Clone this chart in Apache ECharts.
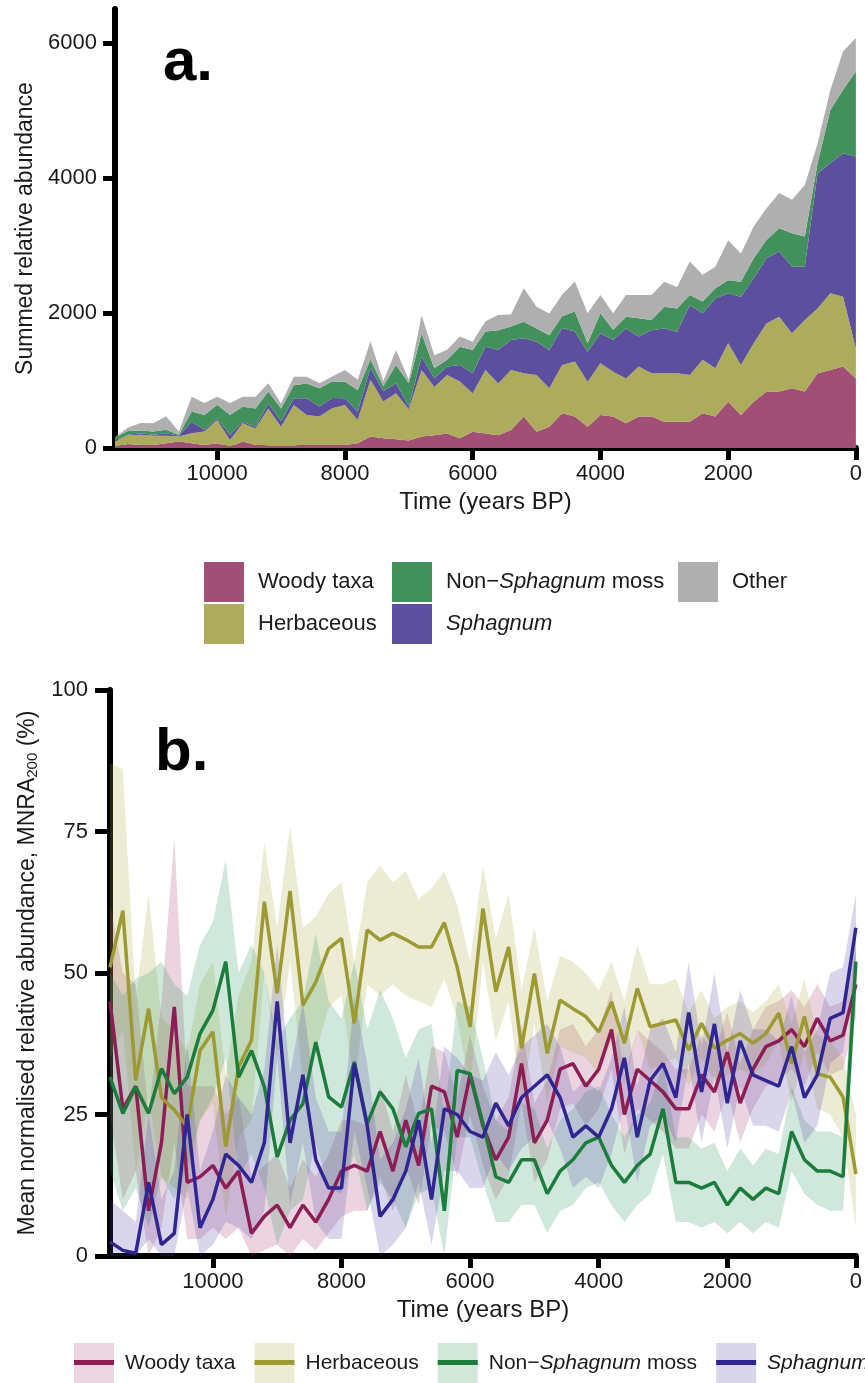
<!DOCTYPE html>
<html>
<head>
  <meta charset="UTF-8"/>
  <title>Summed and mean normalised relative abundance</title>
  <style>
    body { margin: 0; background: #fff; }
    #panelA { width: 865px; height: 660px; }
    #panelB { width: 865px; height: 723px; }
  </style>
</head>
<body>
<div id="panelA"></div>
<div id="panelB"></div>
<script src="https://cdn.jsdelivr.net/npm/echarts@6.0.0/dist/echarts.min.js"></script>
<script type="text/javascript">
    // time bins, years BP (oldest first)
    let years = [11600, 11400, 11200, 11000, 10800, 10600, 10400, 10200, 10000, 9800,
        9600, 9400, 9200, 9000, 8800, 8600, 8400, 8200, 8000, 7800,
        7600, 7400, 7200, 7000, 6800, 6600, 6400, 6200, 6000, 5800,
        5600, 5400, 5200, 5000, 4800, 4600, 4400, 4200, 4000, 3800,
        3600, 3400, 3200, 3000, 2800, 2600, 2400, 2200, 2000, 1800,
        1600, 1400, 1200, 1000, 800, 600, 400, 200, 0];
    let timeTicks = [0, 2000, 4000, 6000, 8000, 10000];
    let sumTicks = [0, 2000, 4000, 6000];
    let mnraTicks = [0, 25, 50, 75, 100];

    // panel a: summed relative abundance (stacked layers)
    let sumWoody = [20, 60, 45, 45, 70, 95, 70, 45, 70, 20, 95, 45, 30, 30, 30, 45, 45, 45, 45, 70,
        170, 145, 130, 110, 170, 190, 215, 145, 240, 215, 190, 265, 465, 240, 315, 515, 465, 315, 490, 465,
        365, 465, 465, 390, 390, 390, 515, 465, 685, 490, 685, 835, 835, 885, 835, 1105, 1155, 1205, 1030];
    let sumHerb = [80, 130, 150, 135, 110, 75, 150, 200, 345, 100, 270, 245, 555, 285, 605, 445, 420, 545, 590, 345,
        840, 545, 680, 465, 985, 715, 865, 840, 570, 940, 765, 890, 640, 840, 570, 715, 815, 665, 765, 665,
        665, 740, 640, 715, 715, 690, 790, 715, 865, 740, 865, 1010, 1110, 815, 1060, 960, 1135, 1035, 445];
    let sumSph = [10, 5, 25, 15, 40, 10, 170, 25, 25, 75, 25, 25, 75, 80, 100, 245, 150, 150, 100, 125,
        175, 150, 150, 40, 195, 125, 125, 245, 295, 345, 495, 445, 520, 495, 565, 545, 445, 445, 445, 470,
        740, 445, 640, 665, 615, 1035, 690, 1035, 740, 1010, 965, 965, 965, 985, 790, 2000, 1925, 2125, 2840];
    let sumNonSph = [40, 55, 40, 50, 50, 15, 150, 220, 200, 295, 220, 270, 175, 190, 195, 220, 270, 245, 245, 320,
        125, 75, 270, 345, 345, 150, 100, 270, 345, 225, 295, 200, 245, 195, 220, 175, 295, 125, 295, 150,
        175, 270, 150, 320, 345, 150, 175, 150, 195, 220, 295, 270, 345, 495, 445, 150, 790, 940, 1260];
    let sumOther = [10, 50, 110, 120, 200, 50, 220, 175, 120, 175, 150, 175, 125, 75, 125, 100, 75, 75, 175, 150,
        270, 75, 220, 50, 270, 195, 150, 150, 125, 150, 225, 175, 495, 320, 320, 320, 445, 445, 270, 245,
        320, 345, 370, 370, 320, 495, 395, 320, 590, 420, 470, 470, 520, 495, 765, 295, 295, 570, 495];

    // panel b: MNRA200 mean and ribbon bounds
    let woodyMean = [45, 26, 30, 8, 20, 44, 13, 14, 16, 12, 15, 4, 7, 9, 5, 9, 6, 10, 15, 16,
        15, 22, 15, 24, 16, 30, 29, 21, 32, 23, 17, 21, 34, 20, 24, 33, 34, 30, 33, 40,
        25, 33, 31, 29, 26, 26, 32, 29, 36, 27, 33, 37, 38, 40, 37, 42, 38, 39, 48];
    let woodyHi = [62, 50, 48, 25, 45, 74, 30, 30, 30, 25, 28, 14, 16, 18, 12, 17, 14, 18, 24, 24,
        23, 30, 22, 32, 23, 37, 36, 28, 39, 30, 24, 28, 41, 27, 31, 40, 41, 37, 40, 47,
        32, 40, 38, 36, 33, 33, 39, 36, 43, 34, 40, 44, 45, 47, 44, 48, 44, 45, 54];
    let woodyLo = [25, 10, 15, 0, 5, 20, 3, 3, 5, 3, 5, 0, 1, 2, 0, 3, 1, 4, 7, 8,
        8, 14, 8, 16, 9, 23, 22, 14, 25, 16, 10, 14, 27, 13, 17, 26, 27, 23, 26, 33,
        18, 26, 24, 22, 19, 19, 25, 22, 29, 20, 26, 30, 31, 33, 30, 36, 32, 33, 42];

    let herbMean = [51, 61, 31, 43.7, 28, 25.8, 22.8, 36.3, 39.6, 19.3, 33.4, 38.1, 62.6, 46.4, 64.5, 44.3, 48.4, 54.3, 56.1, 41.1,
        57.6, 55.8, 57, 55.9, 54.6, 54.6, 58.9, 51, 40.5, 61.4, 46.7, 54.6, 36.7, 49.9, 35.8, 45.2, 43.7, 42.3, 39.6, 44.9,
        37.6, 47.3, 40.5, 41.1, 41.7, 36.4, 41.1, 36.7, 38.1, 39.3, 37.6, 39.3, 42.9, 34, 42.3, 32.2, 31.6, 28.1, 14.5];
    let herbHi = [87, 86, 45, 64, 42, 40, 36, 48, 52, 32, 46, 52, 73, 58, 76, 58, 60, 64, 66, 52,
        66, 69, 66, 68, 63, 65, 68, 62, 52, 69, 56, 64, 47, 58, 45, 53, 52, 50, 47, 52,
        45, 55, 48, 48, 49, 43, 47, 42, 44, 45, 43, 45, 48, 41, 49, 39, 38, 35, 25];
    let herbLo = [35, 40, 15, 28, 14, 12, 10, 24, 27, 7, 21, 24, 50, 35, 52, 31, 36, 44, 46, 30,
        48, 46, 48, 46, 45, 44, 49, 42, 30, 52, 38, 45, 27, 41, 27, 37, 36, 35, 32, 38,
        30, 40, 33, 34, 35, 30, 35, 31, 32, 33, 32, 34, 38, 27, 36, 26, 25, 21, 5];

    let mossMean = [31.6, 25.2, 29.9, 25.2, 33.1, 28.7, 31.6, 39.3, 43.4, 52, 31.6, 36.3, 29.9, 17.5, 24, 26.9, 37.8, 28.1, 26.3, 34.3,
        23.4, 29, 26, 19.3, 25.2, 26, 8, 32.8, 32.2, 23.4, 14, 13, 17, 17, 11, 15, 17, 20, 21, 16,
        13, 16, 18, 26, 13, 13, 12, 13, 9, 12, 10, 12, 11, 22, 17, 15, 15, 14, 52];
    let mossHi = [50, 46, 49, 50, 52, 48, 46, 55, 59, 70, 50, 55, 50, 38, 42, 45, 57, 45, 42, 52,
        40, 47, 42, 35, 40, 41, 25, 45, 44, 35, 24, 22, 27, 26, 19, 24, 26, 29, 30, 25,
        21, 25, 27, 34, 21, 21, 19, 20, 15, 19, 16, 19, 18, 30, 24, 22, 22, 21, 60];
    let mossLo = [15, 8, 12, 5, 14, 10, 16, 24, 28, 35, 14, 18, 12, 2, 8, 10, 20, 12, 11, 18,
        8, 13, 10, 5, 11, 12, 0, 21, 21, 13, 6, 6, 9, 9, 4, 8, 9, 12, 13, 9,
        6, 9, 11, 18, 6, 6, 5, 6, 4, 6, 4, 6, 5, 15, 11, 9, 8, 8, 45];

    let sphMean = [2.5, 1, 0.5, 13, 2, 4, 25, 5, 10, 18, 16, 13, 20, 45, 20, 32, 17, 12, 12, 34,
        23, 7, 10, 15, 24, 10, 26, 25, 22, 21, 27, 23, 28, 30, 32, 28, 21, 23, 21, 26,
        35, 21, 31, 34, 28, 43, 29, 41, 27, 38, 32, 31, 30, 37, 28, 32, 42, 43, 58];
    let sphHi = [10, 8, 6, 25, 10, 15, 38, 15, 22, 32, 28, 25, 33, 55, 32, 45, 28, 22, 22, 46,
        34, 17, 20, 26, 35, 20, 37, 35, 32, 31, 36, 32, 37, 39, 41, 37, 29, 31, 29, 35,
        44, 30, 40, 42, 36, 52, 37, 50, 36, 47, 40, 40, 38, 46, 36, 40, 50, 51, 64];
    let sphLo = [0, 0, 0, 3, 0, 0, 12, 0, 2, 6, 5, 3, 8, 35, 9, 20, 6, 3, 3, 22,
        12, 0, 2, 5, 13, 2, 15, 15, 12, 12, 18, 15, 19, 21, 24, 19, 12, 14, 12, 18,
        27, 13, 23, 25, 20, 34, 20, 32, 19, 30, 23, 23, 22, 29, 20, 23, 34, 36, 51];

    const FONT = "'Liberation Sans', Arial, Helvetica, sans-serif";
    const TXT = '#1a1a1a';

    function legendName(name) {
        name = name.replace(' band', '').replace(' line', '');
        if (name === 'Sphagnum') return '{i|Sphagnum}';
        if (name === 'Non-Sphagnum moss') return 'Non\u2212{i|Sphagnum} moss';
        return name;
    }

    function richText(size, color) {
        return {
            fontSize: size, fontFamily: FONT, color: color,
            rich: {i: {fontSize: size, fontFamily: FONT, fontStyle: 'italic', color: color}}
        };
    }

    const AXIS_LINE = {show: true, onZero: false, lineStyle: {color: '#000', width: 6}};
    const TICK_STYLE = {color: '#000', width: 5};
    let isTimeTick = (idx, val) => timeTicks.indexOf(Number(val)) >= 0;

    // time axis shared by both panels (category bins, oldest on the left)
    function timeAxis(gap) {
        return {
            type: 'category', data: years.map(String), boundaryGap: false,
            axisLine: AXIS_LINE,
            axisTick: {show: true, length: 12, interval: isTimeTick, lineStyle: TICK_STYLE},
            axisLabel: {interval: isTimeTick, margin: 15, fontSize: 22, color: TXT, fontFamily: FONT},
            splitLine: {show: false},
            name: 'Time (years BP)', nameLocation: 'middle', nameGap: gap,
            nameTextStyle: {fontSize: 24, color: TXT, fontFamily: FONT}
        };
    }

    function valueAxis(max, interval, ticks, margin, tickLen) {
        return {
            type: 'value', min: 0, max: max, interval: interval,
            axisLine: AXIS_LINE,
            axisTick: {show: true, length: tickLen, customValues: ticks, lineStyle: TICK_STYLE},
            axisLabel: {customValues: ticks, margin: margin, fontSize: 22, color: TXT, fontFamily: FONT,
                formatter: v => String(v)},
            splitLine: {show: false},
            nameLocation: 'middle'
        };
    }

    // ---------- panel a ----------
    let chartA = echarts.init(document.getElementById('panelA'));
    let layerNames = ['Woody taxa', 'Herbaceous', 'Sphagnum', 'Non-Sphagnum moss', 'Other'];
    let layerColors = ['#A24F75', '#ADAB5C', '#5C4F9E', '#42915C', '#AFAFAF'];
    let layers = [sumWoody, sumHerb, sumSph, sumNonSph, sumOther];

    let legendA = (left, names) => ({
        orient: 'vertical', left: left, top: 562, padding: 0,
        itemWidth: 40, itemHeight: 40, itemGap: 2, icon: 'rect',
        selectedMode: false, data: names, formatter: legendName,
        textStyle: Object.assign(richText(22, TXT), {padding: [0, 0, 0, 9]})
    });

    let yA = valueAxis(6500, 2000, sumTicks, 18, 12);
    yA.name = 'Summed relative abundance';
    yA.nameGap = 74;
    yA.nameTextStyle = {fontSize: 23, color: TXT, fontFamily: FONT};

    chartA.setOption({
        animation: false,
        title: {text: 'a.', left: 158, top: 28, textStyle: {fontSize: 60, fontWeight: 'bold', color: '#000', fontFamily: FONT}},
        grid: {left: 115, top: 9, width: 741, height: 439},
        legend: [
            legendA(204, ['Woody taxa', 'Herbaceous']),
            legendA(392, ['Non-Sphagnum moss', 'Sphagnum']),
            legendA(678, ['Other'])
        ],
        xAxis: timeAxis(40),
        yAxis: yA,
        series: layers.map((arr, k) => ({
            name: layerNames[k],
            type: 'line',
            stack: 'total',
            symbol: 'none',
            color: layerColors[k],
            lineStyle: {width: 0},
            areaStyle: {color: layerColors[k], opacity: 1},
            data: arr
        }))
    });

    // ---------- panel b ----------
    let chartB = echarts.init(document.getElementById('panelB'));
    let groupNames = ['Woody taxa', 'Herbaceous', 'Non-Sphagnum moss', 'Sphagnum'];
    let lineColors = ['#8C1D55', '#9C9A30', '#1B7C3B', '#2F2694'];
    let bandColors = ['rgba(165, 60, 115, 0.22)', 'rgba(170, 165, 55, 0.22)', 'rgba(40, 145, 90, 0.22)', 'rgba(80, 70, 170, 0.22)'];
    let keyColors = ['#EAD5E1', '#ECEBD4', '#D2E6DA', '#D9D6EB'];
    let means = [woodyMean, herbMean, mossMean, sphMean];
    let highs = [woodyHi, herbHi, mossHi, sphHi];
    let lows = [woodyLo, herbLo, mossLo, sphLo];

    let seriesB = [];
    groupNames.forEach((name, k) => {
        seriesB.push({
            name: name + ' low', type: 'line', stack: 'band' + k, symbol: 'none', silent: true,
            lineStyle: {width: 0, opacity: 0}, data: lows[k]
        });
        seriesB.push({
            name: name + ' band', type: 'line', stack: 'band' + k, symbol: 'none', silent: true,
            color: keyColors[k], lineStyle: {width: 0, opacity: 0},
            areaStyle: {color: bandColors[k], opacity: 1},
            data: highs[k].map((h, j) => h - lows[k][j])
        });
    });
    groupNames.forEach((name, k) => {
        seriesB.push({
            name: name + ' line', type: 'line', symbol: 'none', color: lineColors[k],
            lineStyle: {width: 3.5, color: lineColors[k]}, data: means[k]
        });
    });

    let legendB = (suffix, height, top, colors, textColor) => ({
        orient: 'horizontal', left: 74, top: top, width: 1400, padding: 0,
        itemWidth: 40, itemHeight: height, itemGap: 19, icon: 'rect', selectedMode: false,
        data: groupNames.map((n, k) => ({name: n + suffix, itemStyle: {color: colors[k], borderWidth: 0}})),
        formatter: legendName,
        textStyle: Object.assign(richText(21, textColor), {padding: [0, 0, 0, 6]})
    });

    let yB = valueAxis(100, 25, mnraTicks, 22, 15);
    yB.name = 'Mean normalised relative abundance, MNRA{sub|200} (%)';
    yB.nameGap = 70;
    yB.nameTextStyle = {
        fontSize: 23, color: TXT, fontFamily: FONT,
        rich: {sub: {fontSize: 15, color: TXT, fontFamily: FONT, padding: [9, 0, 0, 0]}}
    };

    chartB.setOption({
        animation: false,
        title: {text: 'b.', left: 150, top: 58, textStyle: {fontSize: 60, fontWeight: 'bold', color: '#000', fontFamily: FONT}},
        grid: {left: 110, top: 30, width: 746, height: 566},
        legend: [
            legendB(' band', 40, 683, keyColors, TXT),
            legendB(' line', 5, 692, lineColors, 'rgba(0,0,0,0)')
        ],
        xAxis: timeAxis(42),
        yAxis: yB,
        series: seriesB
    });
</script>
</body>
</html>
